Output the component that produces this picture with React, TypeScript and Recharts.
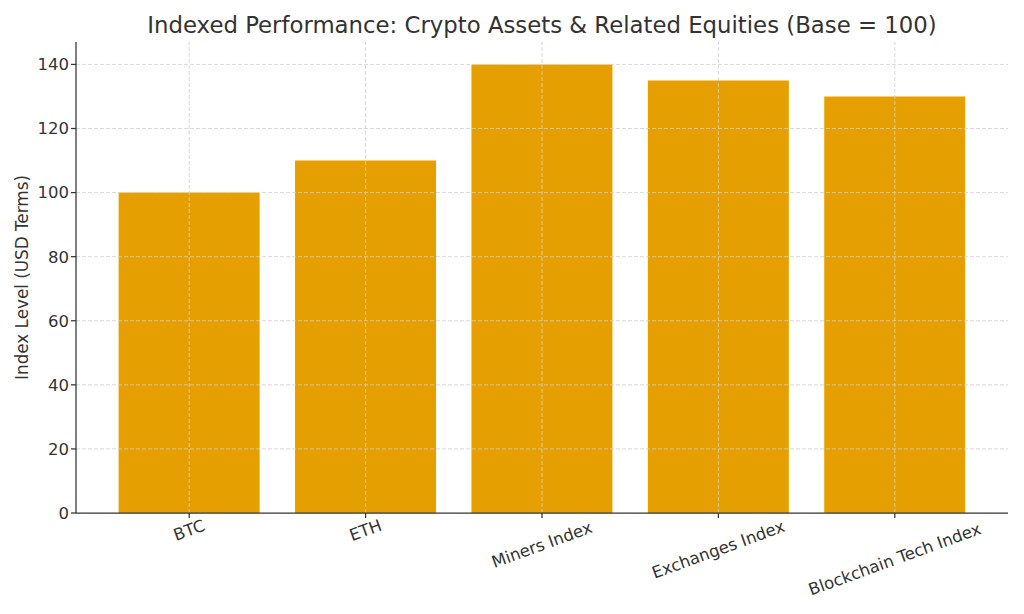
import { BarChart, Bar, XAxis, YAxis, ReferenceLine } from 'recharts';

const categories = ['BTC', 'ETH', 'Miners Index', 'Exchanges Index', 'Blockchain Tech Index'];
const indexLevels = [100, 110, 140, 135, 130];
const yTicks = [0, 20, 40, 60, 80, 100, 120, 140];

const chartData = categories.map((name, i) => ({ name, level: indexLevels[i] }));

const FONT = '"DejaVu Sans", sans-serif';
const TEXT = '#333333';
const TICK_FS = 16.5;
const GRID = { stroke: '#cfcfcf', strokeDasharray: '4 2', strokeWidth: 0.8 };

const RotatedTick = ({ x, y, payload }: any) => {
  const label: string = payload.value;
  const fs = TICK_FS;
  const w = label.length * fs * 0.57;
  const rad = (20 * Math.PI) / 180;
  const h = w * Math.sin(rad) + fs * 1.1 * Math.cos(rad);
  const cy = y - 3 + h / 2;
  return (
    <text
      x={x}
      y={cy}
      textAnchor="middle"
      dominantBaseline="central"
      fontSize={fs}
      fontFamily={FONT}
      fill={TEXT}
      transform={`rotate(-20, ${x}, ${cy})`}
    >
      {label}
    </text>
  );
};

const App = () => {
  return (
    <div style={{ position: 'absolute', left: 0, top: 0, width: 1024, height: 614, background: '#fff' }}>
      <svg width={1024} height={44} style={{ position: 'absolute', left: 0, top: 0 }}>
        <text x={542} y={25} textAnchor="middle" dominantBaseline="central" fontSize={22.8} fontFamily={FONT} fill={TEXT}>
          Indexed Performance: Crypto Assets &amp; Related Equities (Base = 100)
        </text>
      </svg>
      <BarChart
        width={1024}
        height={614}
        data={chartData}
        margin={{ top: 42, right: 16, left: 0, bottom: 0 }}
        barCategoryGap="10%"
      >
        <XAxis
          dataKey="name"
          height={101}
          padding={{ left: 25, right: 25 }}
          tick={<RotatedTick />}
          interval={0}
          axisLine={{ stroke: '#333', strokeWidth: 1.25 }}
          tickLine={{ stroke: '#333', strokeWidth: 1.25 }}
          tickSize={5}
        />
        <YAxis
          width={76}
          domain={[0, 147]}
          ticks={yTicks}
          allowDataOverflow
          tick={{ fontSize: TICK_FS, fill: TEXT, fontFamily: FONT }}
          axisLine={{ stroke: '#333', strokeWidth: 1.25 }}
          tickLine={{ stroke: '#333', strokeWidth: 1.25 }}
          tickSize={5}
          label={{
            value: 'Index Level (USD Terms)',
            angle: -90,
            position: 'insideLeft',
            offset: 0,
            dx: 22,
            style: { fontSize: 16.8, fill: TEXT, fontFamily: FONT, textAnchor: 'middle' },
          }}
        />
        <Bar dataKey="level" fill="#E69F00" isAnimationActive={false} />
        {yTicks.filter((t) => t > 0).map((t) => (
          <ReferenceLine key={`y${t}`} y={t} {...GRID} />
        ))}
        {categories.map((c) => (
          <ReferenceLine key={`x${c}`} x={c} {...GRID} />
        ))}
      </BarChart>
    </div>
  );
};

export default App;
